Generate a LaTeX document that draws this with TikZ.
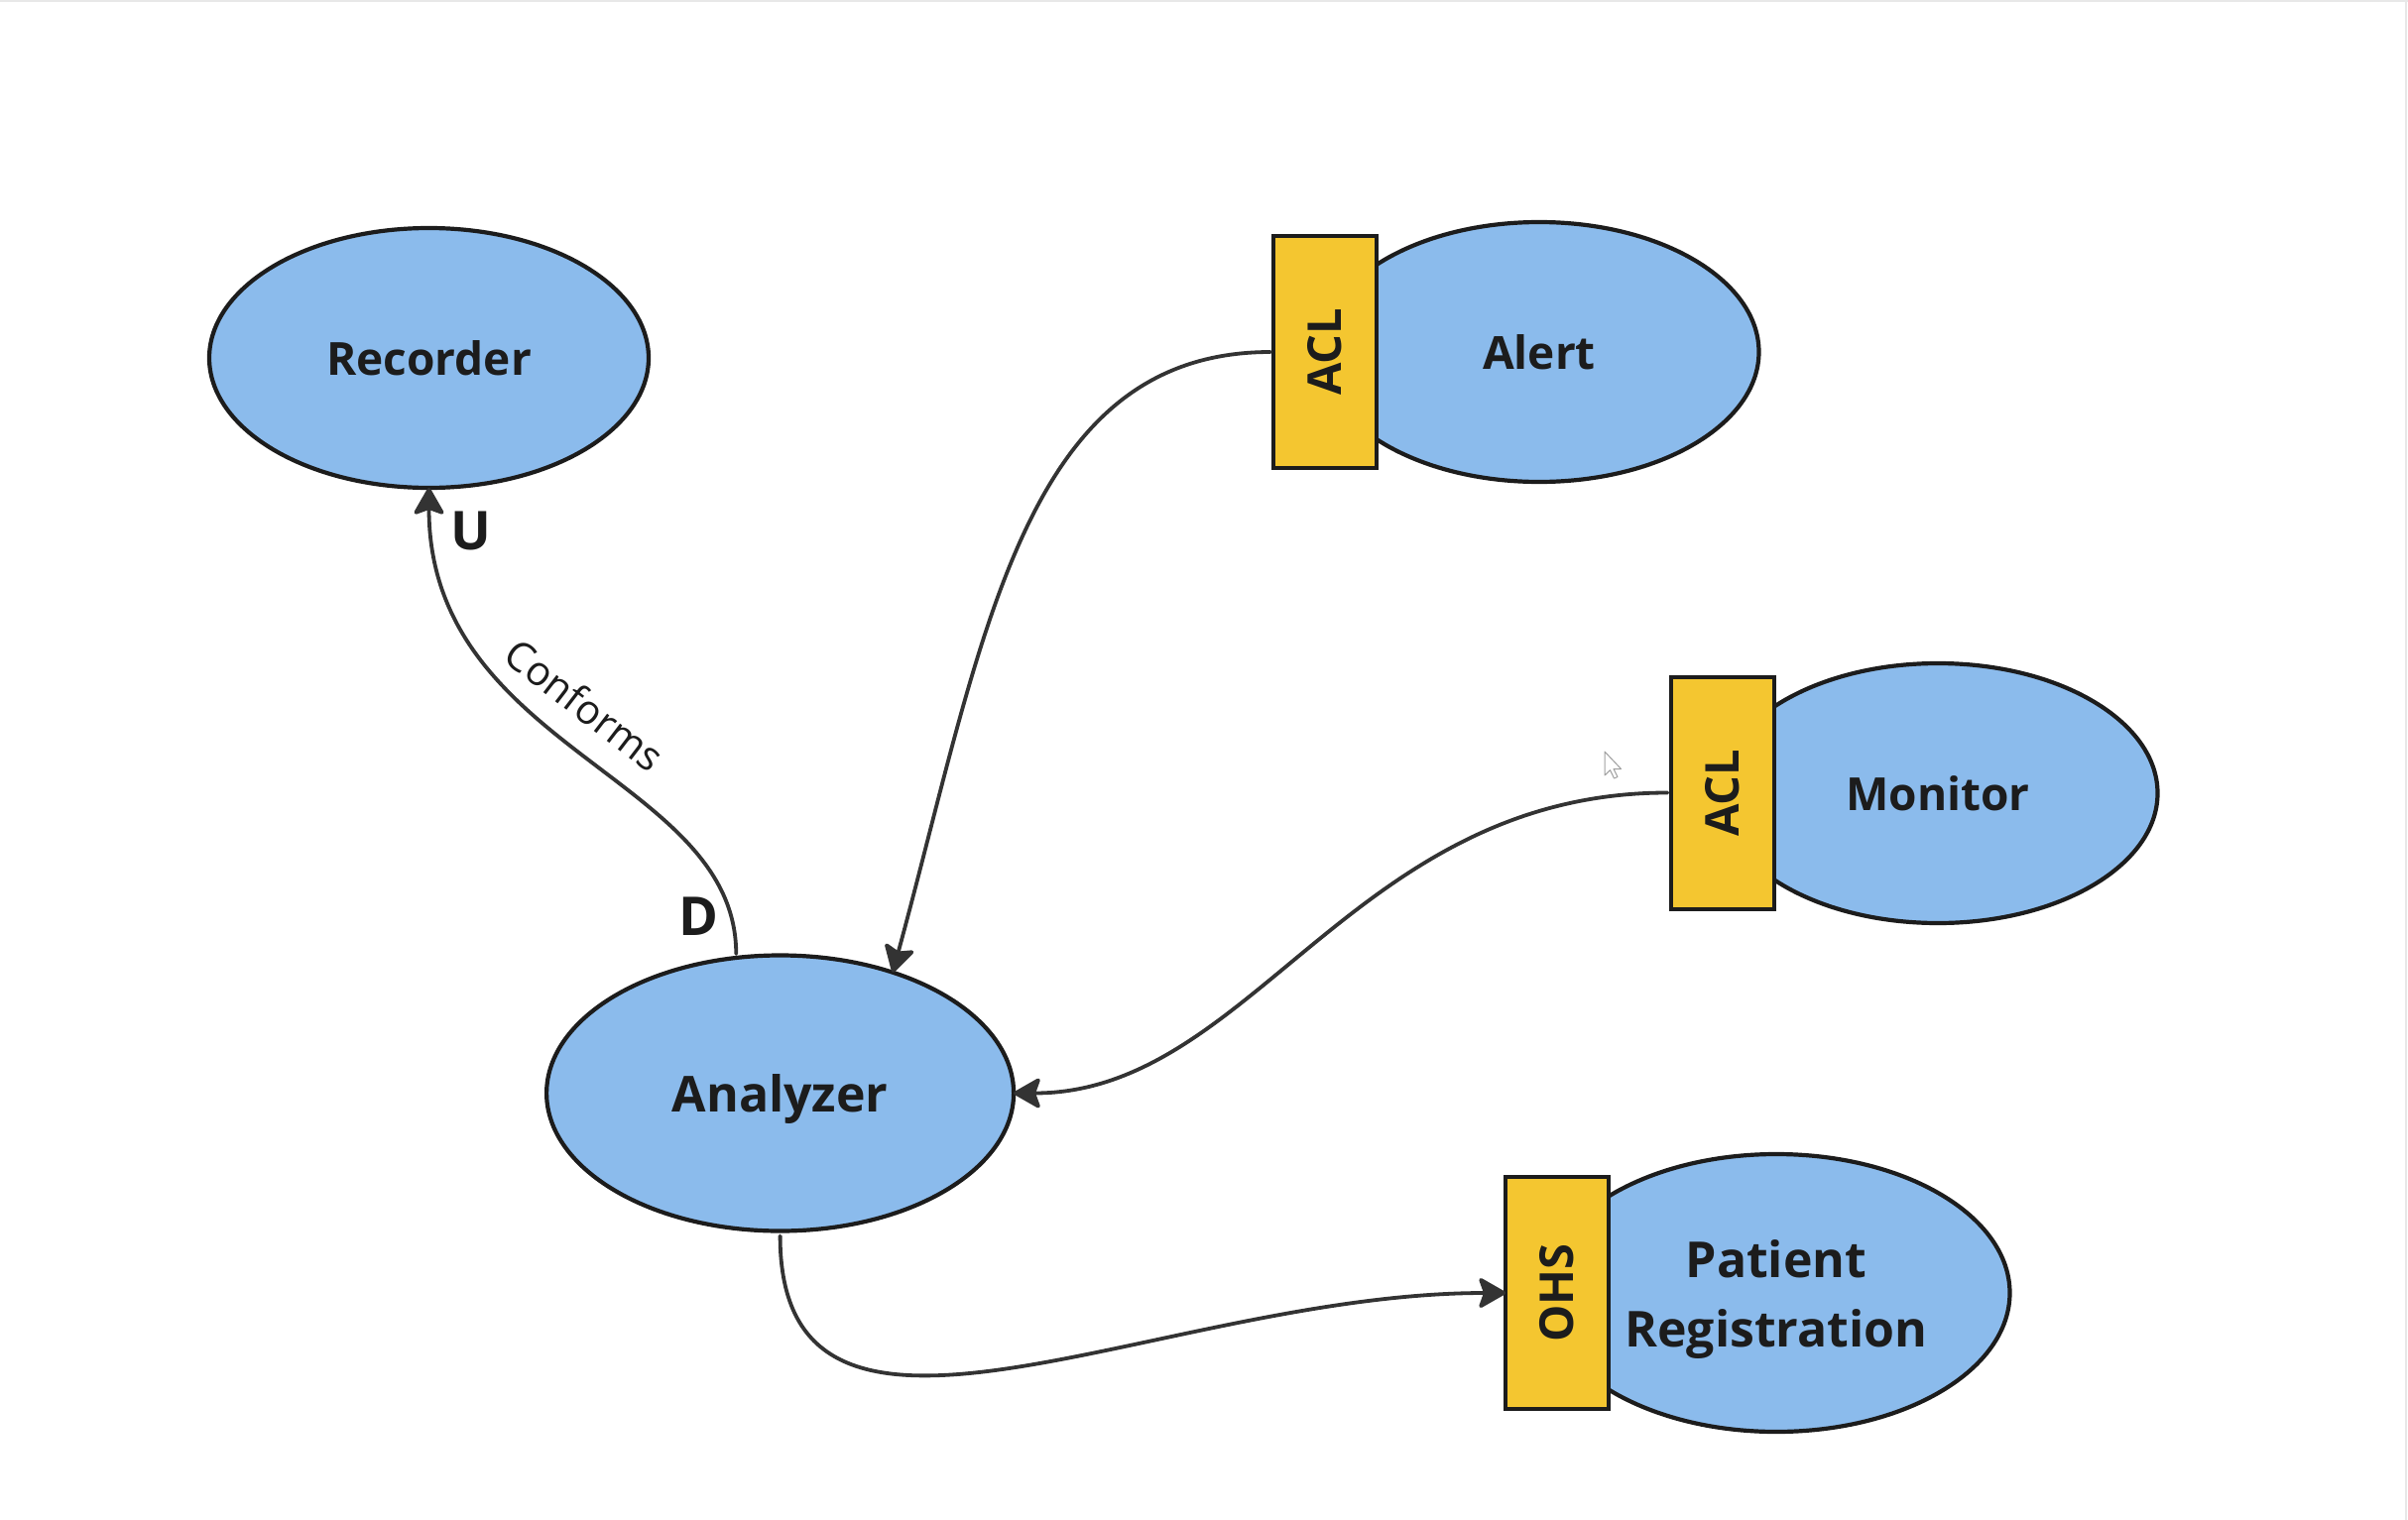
\documentclass[tikz,border=0pt]{standalone}
\usepackage{fontspec}
\setmainfont{Open Sans}
\usepackage{graphicx}
\usetikzlibrary{shapes.geometric,arrows.meta}
\definecolor{ctxblue}{RGB}{139,187,236}
\definecolor{aclyellow}{RGB}{244,198,48}
\definecolor{bordercol}{RGB}{28,28,28}
\definecolor{linecol}{RGB}{51,51,51}
\definecolor{textcol}{RGB}{28,28,28}
\begin{document}
\begin{tikzpicture}[x=1pt,y=-1pt,
  ctx/.style={ellipse, draw=bordercol, fill=ctxblue, line width=4.2pt,
    inner sep=0pt, outer sep=0pt, text=textcol, text depth=0pt,
    font=\bfseries\fontsize{46}{66}\selectfont},
  bigctx/.style={ctx, font=\bfseries\fontsize{50}{70}\selectfont},
  patbox/.style={rectangle, draw=bordercol, fill=aclyellow, line width=4pt,
    inner sep=0pt, outer sep=0pt, minimum width=104pt, minimum height=234pt,
    text=textcol, font=\bfseries\fontsize{47}{66}\selectfont},
  conn/.style={draw=linecol, line width=3.8pt, line cap=round},
  endlbl/.style={text=textcol, font=\bfseries\fontsize{54}{60}\selectfont, inner sep=0pt, anchor=base},
  >={Stealth[length=30pt,width=34pt,inset=6pt,round]}
]
\useasboundingbox (0,0) rectangle (2428,1533);
\fill[white] (0,0) rectangle (2428,1533);
\draw[gray!18, line width=2pt] (0,1) -- (2428,1);
\draw[gray!18, line width=2pt] (2426,0) -- (2426,1533);

% context ellipses
\node[ctx, minimum width=443pt, minimum height=262pt] (rec) at (432.5,361) {Recorder};
\node[ctx, minimum width=443pt, minimum height=262pt] (alert) at (1552,355) {Alert};
\node[ctx, minimum width=443pt, minimum height=262pt] (mon) at (1954,800) {Monitor};
\node[bigctx, minimum width=471pt, minimum height=278pt] (ana) at (786.6,1102.5) {Analyzer};
\node[bigctx, minimum width=471pt, minimum height=280pt, align=center] (pat) at (1791,1304) {Patient\\Registration};

% pattern boxes
\node[patbox] (acl1) at (1336,355) {\rotatebox{90}{ACL}};
\node[patbox] (acl2) at (1736.5,799.5) {\rotatebox{90}{ACL}};
\node[patbox] (ohs) at (1570,1304) {\rotatebox{90}{OHS}};

% connectors
\draw[conn, ->, shorten <=4pt] (ana.108) .. controls +(0,-183) and +(0,265) .. (rec.south);
\draw[conn, ->, shorten <=3pt] (acl1.west) .. controls +(-253,0) and +(92,-338) .. (ana.47);
\draw[conn, ->, shorten <=3pt] (acl2.west) .. controls +(-320,0) and +(240,0) .. (ana.east);
\draw[conn, ->, shorten <=5pt] (ana.south) .. controls +(0,284) and +(-350,0) .. (ohs.west);

% labels
\node[endlbl] (ulbl) at (474.5,554.6) {U};
\node[endlbl] (dlbl) at (704,943) {D};
\node[text=textcol, font=\fontsize{41}{50}\selectfont, rotate=-37.5, inner sep=0pt] (conf) at (590,711) {Conforms};

% mouse pointer
\draw[fill=white, draw=gray!75, line width=1pt, line join=round]
  (1618,758) -- ++(0,24) -- ++(5.5,-5.3) -- ++(4,8.3) -- ++(3.5,-1.5) -- ++(-4,-8) -- ++(7.5,0) -- cycle;
\end{tikzpicture}
\end{document}
